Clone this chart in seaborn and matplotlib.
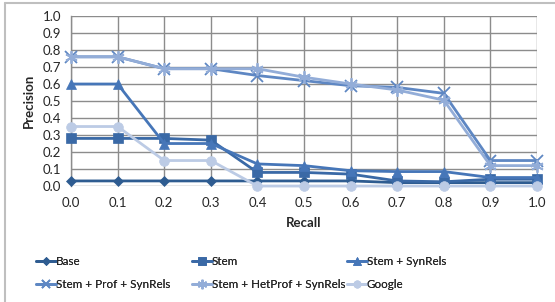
import numpy as np
import pandas as pd
import matplotlib
matplotlib.use("Agg")
import matplotlib.pyplot as plt
import seaborn as sns
from matplotlib.lines import Line2D

recall = [0.0, 0.1, 0.2, 0.3, 0.4, 0.5, 0.6, 0.7, 0.8, 0.9, 1.0]
base = [0.03, 0.03, 0.03, 0.03, 0.03, 0.03, 0.03, 0.02, 0.02, 0.02, 0.02]
stem = [0.28, 0.28, 0.28, 0.27, 0.08, 0.08, 0.07, 0.03, 0.025, 0.04, 0.04]
stem_syn = [0.60, 0.60, 0.25, 0.25, 0.13, 0.12, 0.09, 0.085, 0.085, 0.05, 0.05]
stem_prof = [0.76, 0.76, 0.69, 0.69, 0.65, 0.62, 0.59, 0.58, 0.545, 0.15, 0.15]
stem_het = [0.76, 0.76, 0.69, 0.69, 0.69, 0.64, 0.60, 0.565, 0.505, 0.12, 0.12]
google = [0.35, 0.35, 0.15, 0.15, 0.0, 0.0, 0.0, 0.0, 0.0, 0.0, 0.0]

names = ["Base", "Stem", "Stem + SynRels", "Stem + Prof + SynRels",
         "Stem + HetProf + SynRels", "Google"]
series = [base, stem, stem_syn, stem_prof, stem_het, google]
colors = ["#2E5C91", "#3A69A6", "#4676B8", "#5E87C3", "#93ADD8", "#BCCBE5"]
markers = ["D", "s", "^", "x", (6, 2, 0), "o"]
msizes = [5, 7, 7, 8, 9, 7]

df = pd.DataFrame({
    "Recall": np.tile(recall, len(names)),
    "Precision": np.concatenate(series),
    "Series": np.repeat(names, len(recall)),
})

sns.set_style("white")
plt.rcParams["font.family"] = ["Lato", "DejaVu Sans"]

fig = plt.figure(figsize=(5.55, 3.02), dpi=100)
ax = fig.add_axes([0.128, 0.384, 0.8396, 0.563])

def mew(m):
    return 1.3 if m in ("x", (6, 2, 0)) else 0.5

for name, col, mk, ms in zip(names, colors, markers, msizes):
    sub = df[df["Series"] == name]
    sns.lineplot(data=sub, x="Recall", y="Precision", ax=ax, color=col,
                 marker=mk, markersize=ms, linewidth=2,
                 markeredgecolor=col, markeredgewidth=mew(mk),
                 clip_on=False, zorder=3, legend=False)

ax.set_xlim(0, 1)
ax.set_ylim(0, 1)
ticks = np.round(np.arange(0, 1.01, 0.1), 1)
ax.set_xticks(ticks)
ax.set_yticks(ticks)
ax.set_xticklabels([f"{t:.1f}" for t in ticks])
ax.set_yticklabels([f"{t:.1f}" for t in ticks])
ax.grid(True, color="#8C8C8C", linewidth=1.0)
ax.set_axisbelow(True)
for s in ["top", "right", "bottom"]:
    ax.spines[s].set_visible(False)
ax.spines["left"].set_color("#8C8C8C")
ax.spines["left"].set_linewidth(1.0)
ax.tick_params(axis="y", length=4, color="#8C8C8C", width=1, labelsize=9.5, pad=3)
ax.tick_params(axis="x", length=0, labelsize=9.5, pad=8)
ax.set_xlabel("Recall", fontsize=9.5, fontweight="bold", labelpad=6)
ax.set_ylabel("Precision", fontsize=9.5, fontweight="bold", labelpad=6)

handles = [Line2D([0], [0], color=c, marker=m, markersize=ms * 0.75, linewidth=2,
                  markeredgecolor=c, markeredgewidth=mew(m))
           for c, m, ms in zip(colors, markers, msizes)]
col_x = [36 / 555, 192 / 555, 347 / 555]
for j in range(3):
    idx = [j, j + 3]
    leg = fig.legend([handles[i] for i in idx], [names[i] for i in idx],
                     ncol=1, loc="center left",
                     bbox_to_anchor=(col_x[j], 1 - 273 / 302),
                     frameon=False, fontsize=8.4, handlelength=1.7,
                     handletextpad=0.0, labelspacing=1.05,
                     borderpad=0, borderaxespad=0)
    fig.add_artist(leg)

# chart area border
fig.add_artist(Line2D([0.009, 0.009], [0, 0.99], color="#BFBFBF", linewidth=1.5,
                      transform=fig.transFigure))
fig.add_artist(Line2D([0.009, 1.0], [0.99, 0.99], color="#BFBFBF", linewidth=1.5,
                      transform=fig.transFigure))

fig.savefig("out.png", dpi=100)
